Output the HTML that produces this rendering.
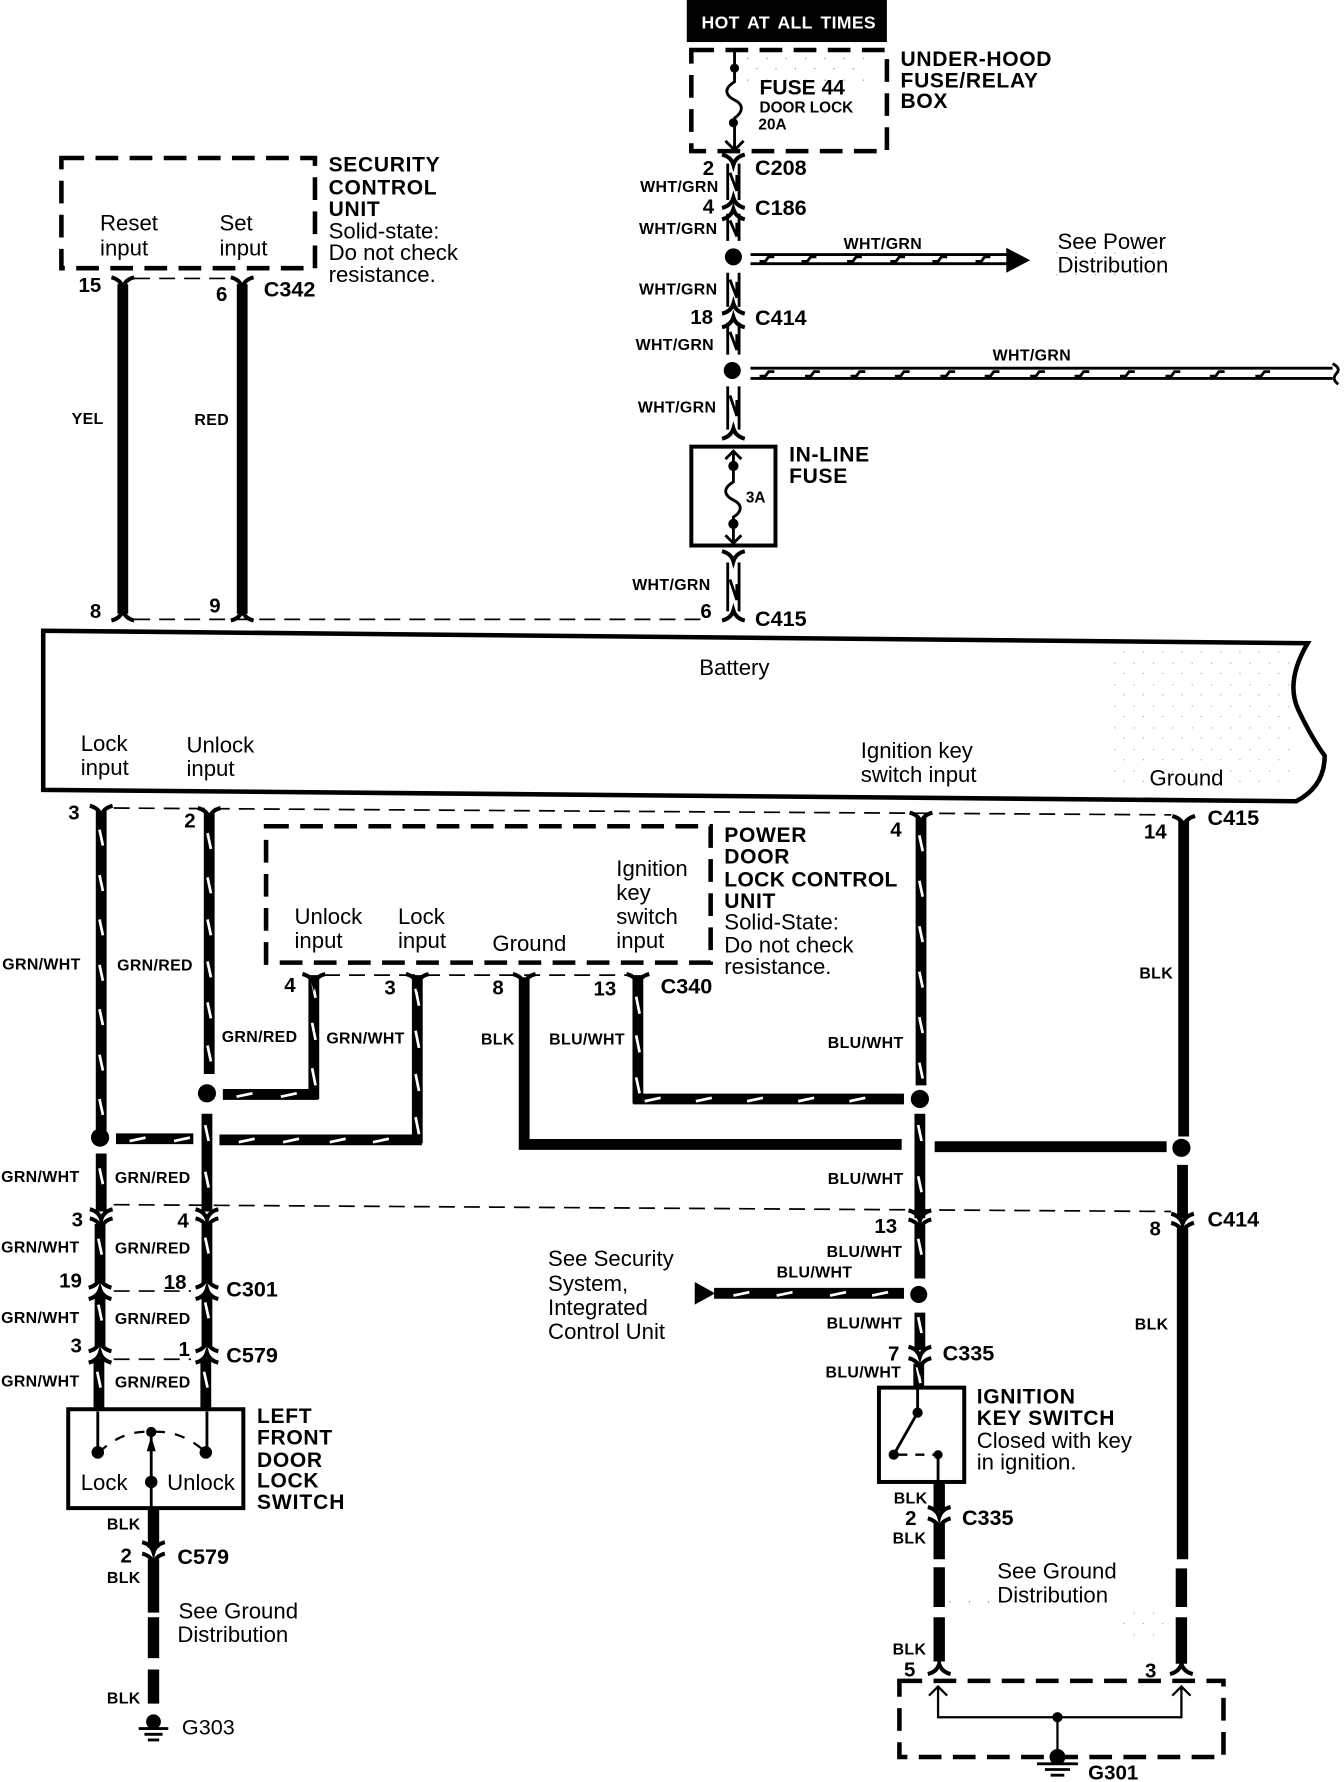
<!DOCTYPE html>
<html><head><meta charset="utf-8"><title>Power door lock wiring diagram</title>
<style>
html,body{margin:0;padding:0;background:#fff;width:1344px;height:1782px;overflow:hidden}
svg{display:block}
text{font-family:"Liberation Sans",sans-serif;fill:#000}
.h{font-weight:bold;font-size:18.5px;letter-spacing:.6px}
.t{font-size:19.5px}
.w{font-weight:bold;font-size:14px;letter-spacing:.3px}
.n{font-weight:bold;font-size:18px}
.c{font-weight:bold;font-size:19px}
.k{stroke:#000;fill:none;stroke-width:9.5}
.s{stroke:#fff;fill:none;stroke-width:2.4}
.d{stroke:#000;fill:none;stroke-width:2.5}
.th{stroke:#000;fill:none;stroke-width:2}
.bd{stroke:#000;fill:none;stroke-width:4;stroke-dasharray:20 10}
.dl{stroke:#000;fill:none;stroke-width:1.5;stroke-dasharray:14 8}
</style></head><body>
<svg xmlns="http://www.w3.org/2000/svg" width="1344" height="1782" viewBox="0 0 1182 1568" preserveAspectRatio="none">
<defs>
<path id="y" d="M-10,-5Q-2,-3 0,4Q2,-3 10,-5" fill="none" stroke="#000" stroke-width="3.6"/>
<path id="a" d="M-10,5Q-2,3 0,-4Q2,3 10,5" fill="none" stroke="#000" stroke-width="3.6"/>
<pattern id="sp" width="17" height="19" patternUnits="userSpaceOnUse"><rect x="2" y="3" width="1" height="1" fill="#000"/><rect x="11" y="13" width="1" height="1" fill="#000"/></pattern>
</defs>
<rect width="1182" height="1568" fill="#fff"/>

<!-- stipple -->
<rect x="975" y="570" width="160" height="125" fill="url(#sp)" opacity=".35"/>
<rect x="650" y="48" width="110" height="24" fill="url(#sp)" opacity=".5"/>
<rect x="925" y="205" width="105" height="45" fill="url(#sp)" opacity=".4"/>
<rect x="835" y="1402" width="40" height="10" fill="url(#sp)" opacity=".6"/>
<rect x="985" y="1410" width="45" height="30" fill="url(#sp)" opacity=".4"/>

<!-- top power -->
<rect x="604" y="0" width="176" height="37" fill="#000"/>
<text x="617" y="25" style="fill:#fff;font-weight:bold;font-size:15.5px;letter-spacing:.3px;word-spacing:2.5px">HOT AT ALL TIMES</text>
<rect x="608" y="44" width="172" height="89" class="bd"/>
<path d="M646,44V72C636,78 638,84 646,88S654,98 646,104V132" class="d"/>
<circle cx="646" cy="60" r="4"/><circle cx="645" cy="108" r="4"/>
<path d="M638,124L646,132L654,124" class="d"/>
<text x="668" y="83" style="font-weight:bold;font-size:18.5px">FUSE 44</text>
<text x="668" y="99" style="font-weight:bold;font-size:13.5px">DOOR LOCK</text>
<text x="667" y="114" style="font-weight:bold;font-size:13.5px">20A</text>
<text class="h" x="792" y="58">UNDER-HOOD</text>
<text class="h" x="792" y="77">FUSE/RELAY</text>
<text class="h" x="792" y="95">BOX</text>

<path d="M640,144V176M650,144V176M640,188V212M650,188V212M640,240V270M650,240V270M640,284V312M650,284V312M640,340V378M650,340V378M640,495V538M650,495V538" class="d"/>
<path d="M642,152L648,168V154M642,194L648,208V196M642,246L648,262V248M642,292L648,308V294M642,348L648,366V352M642,510L648,528V514" class="d"/>
<use href="#y" x="645" y="141"/><use href="#a" x="645" y="178"/><use href="#a" x="645" y="188"/>
<use href="#a" x="645" y="271"/><use href="#a" x="645" y="283"/>
<use href="#a" x="645" y="381"/><use href="#y" x="645" y="490"/><use href="#a" x="645" y="541"/>
<text class="n" x="618" y="154">2</text><text class="c" x="664" y="154">C208</text>
<text class="w" x="563" y="169">WHT/GRN</text>
<text class="n" x="618" y="188">4</text><text class="c" x="664" y="189">C186</text>
<text class="w" x="562" y="206">WHT/GRN</text>
<circle cx="645" cy="226" r="7.5"/>
<path d="M660,224H887M660,232H887" class="d"/>
<path d="M668,230h5l3,-4h5M705,230h5l3,-4h5M745,230h5l3,-4h5M783,230h5l3,-4h5M820,230h5l3,-4h5M858,230h5l3,-4h5" class="d"/>
<path d="M885,218L906,229L885,240Z"/>
<text class="w" x="742" y="219">WHT/GRN</text>
<text class="t" x="930" y="219">See Power</text><text class="t" x="930" y="240">Distribution</text>
<text class="w" x="562" y="259">WHT/GRN</text>
<text class="n" x="607" y="285">18</text><text class="c" x="664" y="286">C414</text>
<text class="w" x="559" y="308">WHT/GRN</text>
<circle cx="644" cy="326" r="7.5"/>
<path d="M660,324H1172M660,333H1172" class="d"/>
<path d="M668,331h5l3,-4h5M708,331h5l3,-4h5M748,331h5l3,-4h5M787,331h5l3,-4h5M827,331h5l3,-4h5M866,331h5l3,-4h5M906,331h5l3,-4h5M945,331h5l3,-4h5M985,331h5l3,-4h5M1025,331h5l3,-4h5M1064,331h5l3,-4h5M1104,331h5l3,-4h5" class="d"/>
<path d="M1172,320Q1180,324 1175,329Q1171,334 1177,338" class="d"/>
<text class="w" x="873" y="317">WHT/GRN</text>
<text class="w" x="561" y="363">WHT/GRN</text>
<rect x="608" y="393" width="74" height="87" fill="none" stroke="#000" stroke-width="3.5"/>
<path d="M645,397V424C635,430 637,436 645,440S653,450 645,455V478" class="d"/>
<path d="M638,404L645,397L652,404M638,471L645,478L652,471" class="d"/>
<circle cx="645" cy="410" r="4.5"/><circle cx="645" cy="461" r="4.5"/>
<text x="656" y="442" style="font-weight:bold;font-size:13.5px">3A</text>
<text class="h" x="694" y="406">IN-LINE</text><text class="h" x="694" y="425">FUSE</text>
<text class="w" x="556" y="519">WHT/GRN</text>
<text class="n" x="616" y="544">6</text><text class="c" x="664" y="551">C415</text>

<!-- security unit -->
<rect x="54" y="139" width="223" height="97" class="bd"/>
<text class="t" x="88" y="203">Reset</text><text class="t" x="88" y="225">input</text>
<text class="t" x="193" y="203">Set</text><text class="t" x="193" y="225">input</text>
<text class="h" x="289" y="151">SECURITY</text><text class="h" x="289" y="171">CONTROL</text><text class="h" x="289" y="190">UNIT</text>
<text class="t" x="289" y="210">Solid-state:</text><text class="t" x="289" y="229">Do not check</text><text class="t" x="289" y="248">resistance.</text>
<path d="M108,250V540M213,250V540" class="k"/>
<use href="#y" x="108" y="249"/><use href="#y" x="213" y="249"/>
<use href="#a" x="108" y="541"/><use href="#a" x="213" y="541"/>
<path d="M118,245H205" class="dl"/>
<path d="M118,545H620" class="dl"/>
<text class="n" x="69" y="257">15</text><text class="n" x="190" y="265">6</text><text class="c" x="232" y="261">C342</text>
<text class="w" x="63" y="373">YEL</text><text class="w" x="171" y="374">RED</text>
<text class="n" x="79" y="544">8</text><text class="n" x="184" y="539">9</text>

<!-- big unit -->
<path d="M38,555L1150,566Q1130,600 1142,625T1165,665Q1165,692 1140,705L38,695Z" fill="none" stroke="#000" stroke-width="4"/>
<text class="t" x="615" y="594">Battery</text>
<text class="t" x="71" y="661">Lock</text><text class="t" x="71" y="682">input</text>
<text class="t" x="164" y="662">Unlock</text><text class="t" x="164" y="683">input</text>
<text class="t" x="757" y="667">Ignition key</text><text class="t" x="757" y="688">switch input</text>
<text class="t" x="1011" y="691">Ground</text>

<path d="M100,711L1030,717" class="dl"/>
<path d="M100,1060L1030,1066" class="dl"/>
<text class="n" x="60" y="721">3</text><text class="n" x="162" y="728">2</text>
<text class="n" x="783" y="736">4</text><text class="n" x="1006" y="738">14</text><text class="c" x="1062" y="726">C415</text>

<!-- vertical striped wires -->
<path d="M89,714V995M89,1015V1066M184,716V945M182,980V1066M276,858V967M367,858V1006M561,858V971M810,720V955M809,980V1072" class="k"/>
<path d="M87.5,730l3,14M87.5,770l3,14M87.5,809l3,14M87.5,849l3,14M87.5,888l3,14M87.5,928l3,14M87.5,967l3,14M87.5,1028l3,14" class="s"/>
<path d="M182.5,733l3,14M182.5,772l3,14M182.5,809l3,14M182.5,846l3,14M182.5,882l3,14M182.5,920l3,14M180.5,990l3,14M180.5,1031l3,14" class="s"/>
<path d="M274.5,863l3,15M274.5,900l3,15M274.5,940l3,15" class="s"/>
<path d="M365.5,870l3,15M365.5,907l3,15M365.5,945l3,15M365.5,983l3,15" class="s"/>
<path d="M559.5,877l3,15M559.5,911l3,15M559.5,948l3,14" class="s"/>
<path d="M808.5,735l3,14M808.5,775l3,14M808.5,815l3,14M808.5,855l3,14M808.5,895l3,14M808.5,935l3,14M807.5,990l3,14M807.5,1035l3,14" class="s"/>
<path d="M461,860V1007H793M822,1009H1026" class="k"/>
<path d="M1041,722V1000M1040,1025V1072" class="k"/>
<circle cx="182" cy="962" r="8"/><circle cx="88" cy="1001" r="8"/>
<circle cx="809" cy="967" r="8"/><circle cx="1039" cy="1010" r="8"/>
<path d="M196,963H280M102,1002H170M193,1003H371M557,967H795" class="k"/>
<path d="M208,965l14,-3M247,965l14,-3M114,1004l14,-3M153,1004l14,-3M210,1005l14,-3M249,1005l14,-3M290,1005l14,-3M328,1005l14,-3M567,969l14,-3M612,969l14,-3M657,969l14,-3M702,969l14,-3M747,969l14,-3" class="s"/>
<use href="#y" x="89" y="714"/><use href="#y" x="184" y="716"/><use href="#y" x="810" y="720"/><use href="#y" x="1041" y="723"/>

<!-- control unit -->
<rect x="234" y="727" width="391" height="120" class="bd"/>
<text class="t" x="259" y="813">Unlock</text><text class="t" x="259" y="834">input</text>
<text class="t" x="350" y="813">Lock</text><text class="t" x="350" y="834">input</text>
<text class="t" x="433" y="837">Ground</text>
<text class="t" x="542" y="771">Ignition</text><text class="t" x="542" y="792">key</text><text class="t" x="542" y="813">switch</text><text class="t" x="542" y="834">input</text>
<text class="h" x="637" y="741">POWER</text><text class="h" x="637" y="760">DOOR</text><text class="h" x="637" y="780" style="letter-spacing:.3px">LOCK CONTROL</text><text class="h" x="637" y="799">UNIT</text>
<text class="t" x="637" y="818">Solid-State:</text><text class="t" x="637" y="838">Do not check</text><text class="t" x="637" y="857">resistance.</text>
<path d="M285,858H555" class="dl"/>
<use href="#y" x="276" y="862"/><use href="#y" x="367" y="862"/><use href="#y" x="461" y="862"/><use href="#y" x="561" y="862"/>
<text class="n" x="250" y="873">4</text><text class="n" x="338" y="875">3</text><text class="n" x="433" y="875">8</text><text class="n" x="522" y="876">13</text><text class="c" x="581" y="874">C340</text>

<text class="w" x="2" y="853">GRN/WHT</text><text class="w" x="103" y="854">GRN/RED</text>
<text class="w" x="195" y="917">GRN/RED</text><text class="w" x="287" y="918">GRN/WHT</text>
<text class="w" x="423" y="919">BLK</text><text class="w" x="483" y="919">BLU/WHT</text>
<text class="w" x="728" y="922">BLU/WHT</text><text class="w" x="1002" y="861">BLK</text>
<text class="w" x="1" y="1040">GRN/WHT</text><text class="w" x="101" y="1041">GRN/RED</text>
<text class="w" x="728" y="1042">BLU/WHT</text>

<!-- left bottom -->
<use href="#y" x="89" y="1069"/><use href="#y" x="89" y="1077"/><use href="#y" x="182" y="1069"/><use href="#y" x="182" y="1077"/>
<path d="M88,1077V1128M182,1077V1128M88,1138V1185M182,1138V1185M87,1195V1240M181,1195V1240" class="k"/>
<path d="M86.5,1090l3,14M180.5,1089l3,14M86.5,1148l3,14M180.5,1146l3,14M85.5,1207l3,14M179.5,1207l3,14" class="s"/>
<use href="#a" x="88" y="1128"/><use href="#a" x="88" y="1138"/><use href="#a" x="182" y="1128"/><use href="#a" x="182" y="1138"/>
<use href="#a" x="88" y="1184"/><use href="#a" x="88" y="1194"/><use href="#a" x="182" y="1184"/><use href="#a" x="182" y="1194"/>
<path d="M100,1136H168M100,1196H168" class="dl"/>
<text class="n" x="63" y="1079">3</text><text class="n" x="156" y="1080">4</text>
<text class="w" x="1" y="1102">GRN/WHT</text><text class="w" x="101" y="1103">GRN/RED</text>
<text class="n" x="52" y="1133">19</text><text class="n" x="144" y="1134">18</text><text class="c" x="199" y="1141">C301</text>
<text class="w" x="1" y="1164">GRN/WHT</text><text class="w" x="101" y="1165">GRN/RED</text>
<text class="n" x="62" y="1190">3</text><text class="n" x="157" y="1193">1</text><text class="c" x="199" y="1199">C579</text>
<text class="w" x="1" y="1220">GRN/WHT</text><text class="w" x="101" y="1221">GRN/RED</text>

<rect x="60" y="1240" width="154" height="87" fill="#fff" stroke="#000" stroke-width="3.5"/>
<path d="M86,1242V1278M182,1242V1278M133,1262V1327" class="d"/>
<path d="M87,1278Q108,1258 133,1260Q160,1258 181,1278" fill="none" stroke="#000" stroke-width="2" stroke-dasharray="9 9"/>
<circle cx="86" cy="1278" r="5.5"/><circle cx="181" cy="1278" r="5.5"/><circle cx="133" cy="1260" r="4.5"/><circle cx="133" cy="1304" r="5.5"/>
<path d="M133,1264L129,1277H137Z"/>
<text class="t" x="71" y="1311">Lock</text><text class="t" x="147" y="1311">Unlock</text>
<text class="h" x="226" y="1252">LEFT</text><text class="h" x="226" y="1271">FRONT</text><text class="h" x="226" y="1291">DOOR</text><text class="h" x="226" y="1309">LOCK</text><text class="h" x="226" y="1328" style="letter-spacing:.8px">SWITCH</text>
<path d="M135,1328V1362M135,1372V1419M135,1423V1459M135,1469V1499" stroke="#000" stroke-width="10" fill="none"/>
<use href="#y" x="135" y="1362"/><use href="#y" x="135" y="1372"/>
<text class="w" x="94" y="1346">BLK</text><text class="n" x="106" y="1375">2</text><text class="c" x="156" y="1376">C579</text>
<text class="w" x="94" y="1393">BLK</text><text class="w" x="94" y="1499">BLK</text>
<text class="t" x="157" y="1424">See Ground</text><text class="t" x="156" y="1445">Distribution</text>
<circle cx="135" cy="1515" r="6.5"/><path d="M122,1521H148M127,1526H143M130,1531H140" class="d"/>
<text x="160" y="1526" style="font-size:19px">G303</text>

<!-- right bottom -->
<use href="#y" x="809" y="1070"/><use href="#y" x="809" y="1078"/>
<text class="n" x="769" y="1085">13</text>
<text class="w" x="727" y="1106">BLU/WHT</text>
<path d="M809,1078V1125M809,1155V1188M808,1200V1222" class="k"/>
<path d="M807.5,1090l3,14M807.5,1159l3,14M806.5,1203l3,14" class="s"/>
<circle cx="808" cy="1139" r="7.5"/>
<path d="M628,1138H795" class="k"/>
<path d="M645,1140l14,-3M683,1140l14,-3M730,1140l14,-3M767,1140l14,-3" class="s"/>
<path d="M611,1128L629,1138L611,1148Z"/>
<text class="w" x="683" y="1124">BLU/WHT</text>
<text class="t" x="482" y="1114">See Security</text><text class="t" x="482" y="1136">System,</text><text class="t" x="482" y="1157">Integrated</text><text class="t" x="482" y="1178">Control Unit</text>
<text class="w" x="727" y="1169">BLU/WHT</text>
<use href="#y" x="809" y="1190"/><use href="#y" x="809" y="1200"/>
<text class="n" x="781" y="1197">7</text><text class="c" x="829" y="1197">C335</text>
<text class="w" x="726" y="1212">BLU/WHT</text>
<rect x="773" y="1221" width="75" height="83" fill="#fff" stroke="#000" stroke-width="3.5"/>
<path d="M807,1222V1243L786,1280M825,1280V1304" class="d"/>
<circle cx="807" cy="1243" r="4.5"/><circle cx="786" cy="1280" r="4.5"/><circle cx="825" cy="1280" r="4"/>
<path d="M790,1280H825" fill="none" stroke="#000" stroke-width="2" stroke-dasharray="8 7"/>
<text class="h" x="859" y="1235">IGNITION</text><text class="h" x="859" y="1254">KEY SWITCH</text>
<text class="t" x="859" y="1274">Closed with key</text><text class="t" x="859" y="1293">in ignition.</text>
<path d="M826,1305V1330M826,1340V1372M826,1379V1414M826,1423V1462" stroke="#000" stroke-width="10" fill="none"/>
<use href="#y" x="826" y="1331"/><use href="#y" x="826" y="1341"/>
<text class="w" x="786" y="1323">BLK</text><text class="n" x="796" y="1342">2</text><text class="c" x="846" y="1342">C335</text><text class="w" x="785" y="1358">BLK</text>
<text class="t" x="877" y="1389">See Ground</text><text class="t" x="877" y="1410">Distribution</text>
<text class="w" x="785" y="1456">BLK</text>
<use href="#a" x="826" y="1468"/><use href="#a" x="1039" y="1468"/>
<text class="n" x="795" y="1475">5</text><text class="n" x="1007" y="1476">3</text>

<use href="#y" x="1040" y="1073"/><use href="#y" x="1040" y="1081"/>
<text class="n" x="1011" y="1087">8</text><text class="c" x="1062" y="1079">C414</text>
<path d="M1040,1081V1372M1039,1380V1414M1039,1423V1464" stroke="#000" stroke-width="10" fill="none"/>
<text class="w" x="998" y="1170">BLK</text>

<rect x="791" y="1479" width="285" height="67" class="bd"/>
<path d="M825,1484V1511H1039V1484M930,1511V1543M817,1492L825,1484L833,1492M1031,1492L1039,1484L1047,1492" class="th"/>
<circle cx="930" cy="1511" r="4.5"/>
<circle cx="930" cy="1546" r="7"/>
<path d="M912,1552H948M919,1557H941M924,1562H936" class="d"/>
<text x="957" y="1566" style="font-weight:bold;font-size:18px">G301</text>
</svg>
</body></html>
